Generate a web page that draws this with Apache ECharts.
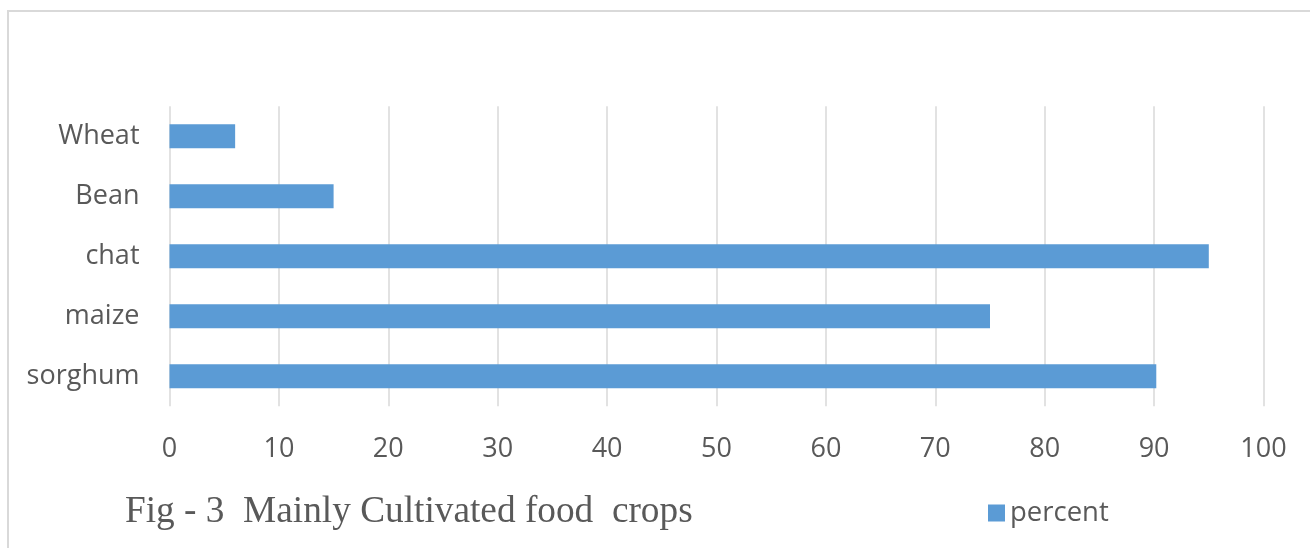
<!DOCTYPE html>
<html>
<head>
<meta charset="utf-8">
<script src="https://cdn.jsdelivr.net/npm/echarts@6/dist/echarts.min.js"></script>
<style>
  html, body { margin: 0; padding: 0; background: #fff; }
  #chart { width: 1310px; height: 548px; }
</style>
</head>
<body>
<div id="chart"></div>
<script>
// crops, bottom to top as drawn
var categories = ['sorghum', 'maize', 'chat', 'Bean', 'Wheat'];
var percent = [90.2, 75, 95, 15, 6];
var seriesName = 'percent';
var titleText = 'Fig - 3  Mainly Cultivated food  crops';

var chart = echarts.init(document.getElementById('chart'));
var textGray = '#595959';

var option = {
    animation: false,
    graphic: [
        {
            type: 'rect',
            shape: { x: 8, y: 11, width: 1330, height: 560 },
            style: { fill: 'none', stroke: '#d9d9d9', lineWidth: 2 },
            silent: true
        },
        {
            type: 'text',
            left: 125,
            top: 494,
            style: {
                text: titleText,
                font: '37.3px "Liberation Serif", "Times New Roman", serif',
                fill: textGray
            }
        }
    ],
    legend: {
        data: [seriesName],
        left: 983,
        top: 494,
        itemWidth: 17,
        itemHeight: 17,
        itemGap: 9,
        icon: 'rect',
        textStyle: { color: textGray, fontSize: 27.5, fontFamily: 'Open Sans' }
    },
    grid: {
        left: 169.5,
        right: 1310 - 1263.5,
        top: 106.3,
        height: 300,
        containLabel: false
    },
    xAxis: {
        type: 'value',
        min: 0,
        max: 100,
        interval: 10,
        axisLine: { show: false },
        axisTick: { show: false },
        splitLine: { show: true, lineStyle: { color: '#d9d9d9', width: 1.5 } },
        axisLabel: {
            color: textGray,
            fontSize: 27,
            fontFamily: 'Open Sans',
            margin: 30
        }
    },
    yAxis: {
        type: 'category',
        data: categories,
        axisLine: { show: false },
        axisTick: { show: false },
        axisLabel: {
            color: textGray,
            fontSize: 27,
            fontFamily: 'Open Sans',
            margin: 30,
            padding: [5, 0, 0, 0]
        }
    },
    series: [
        {
            name: seriesName,
            type: 'bar',
            data: percent,
            barWidth: 24,
            itemStyle: { color: '#5b9bd5' }
        }
    ]
};

chart.setOption(option);
</script>
</body>
</html>
